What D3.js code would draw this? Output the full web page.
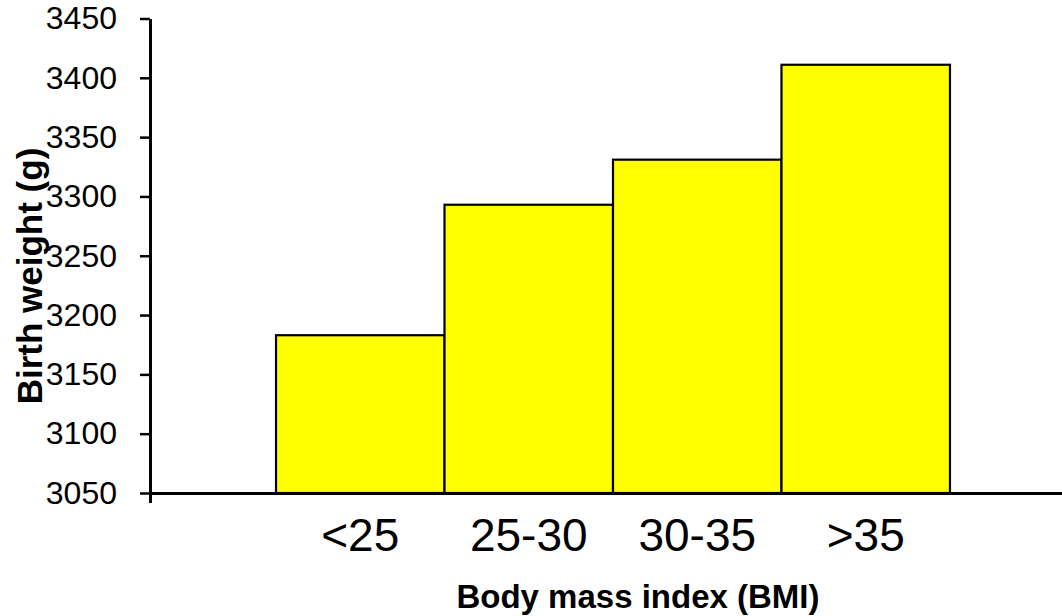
<!DOCTYPE html>
<html>
<head>
<meta charset="utf-8">
<script src="https://cdn.jsdelivr.net/npm/d3@7"></script>
<style>
  body { margin: 0; background: #fff; }
  svg { display: block; font-family: "Liberation Sans", Arial, sans-serif; }
</style>
</head>
<body>
<svg id="chart" width="1062" height="616"></svg>
<script>
const categories = ['<25', '25-30', '30-35', '>35'];
const birthWeight = [3183, 3293, 3331, 3411];
const yTicks = [3050, 3100, 3150, 3200, 3250, 3300, 3350, 3400, 3450];

const svg = d3.select('svg#chart');
const axisX = 150, axisBottom = 493, axisTop = 18.5;

const xScale = d3.scaleBand()
    .domain(categories)
    .range([axisX, 1076])
    .paddingInner(0)
    .paddingOuter(0.748);

const yScale = d3.scaleLinear()
    .domain([3050, 3450])
    .range([axisBottom, axisTop]);

// bars
svg.append('g')
    .selectAll('rect')
    .data(categories)
    .enter()
    .append('rect')
    .attr('x', d => xScale(d))
    .attr('y', (d, i) => yScale(birthWeight[i]))
    .attr('width', xScale.bandwidth())
    .attr('height', (d, i) => axisBottom - yScale(birthWeight[i]))
    .attr('fill', '#ffff00')
    .attr('stroke', '#000')
    .attr('stroke-width', 2.2);

// y axis
const yAxis = svg.append('g')
    .attr('transform', `translate(${axisX},0)`)
    .call(d3.axisLeft(yScale).tickValues(yTicks).tickSizeInner(10).tickSizeOuter(0).tickPadding(23).tickFormat(d3.format('d')))
    .attr('font-family', '"Liberation Sans", Arial, sans-serif');
yAxis.select('.domain').attr('stroke-width', 3);
yAxis.selectAll('.tick line').attr('stroke-width', 2.5);
yAxis.selectAll('text')
    .style('font-size', '32px')
    .attr('fill', '#000');

// x axis
const xAxis = svg.append('g')
    .attr('transform', `translate(0,${axisBottom})`)
    .call(d3.axisBottom(xScale).tickSizeInner(0).tickSizeOuter(10).tickPadding(25))
    .attr('font-family', '"Liberation Sans", Arial, sans-serif');
xAxis.select('.domain').attr('stroke-width', 3);
xAxis.selectAll('text')
    .style('font-size', '46px')
    .attr('fill', '#000');

// axis titles
svg.append('text')
    .attr('x', 638)
    .attr('y', 608)
    .attr('text-anchor', 'middle')
    .style('font-size', '33px')
    .style('font-weight', 'bold')
    .text('Body mass index (BMI)');

svg.append('text')
    .attr('transform', 'translate(42,276) rotate(-90)')
    .attr('text-anchor', 'middle')
    .style('font-size', '35px')
    .style('font-weight', 'bold')
    .text('Birth weight (g)');
</script>
</body>
</html>
